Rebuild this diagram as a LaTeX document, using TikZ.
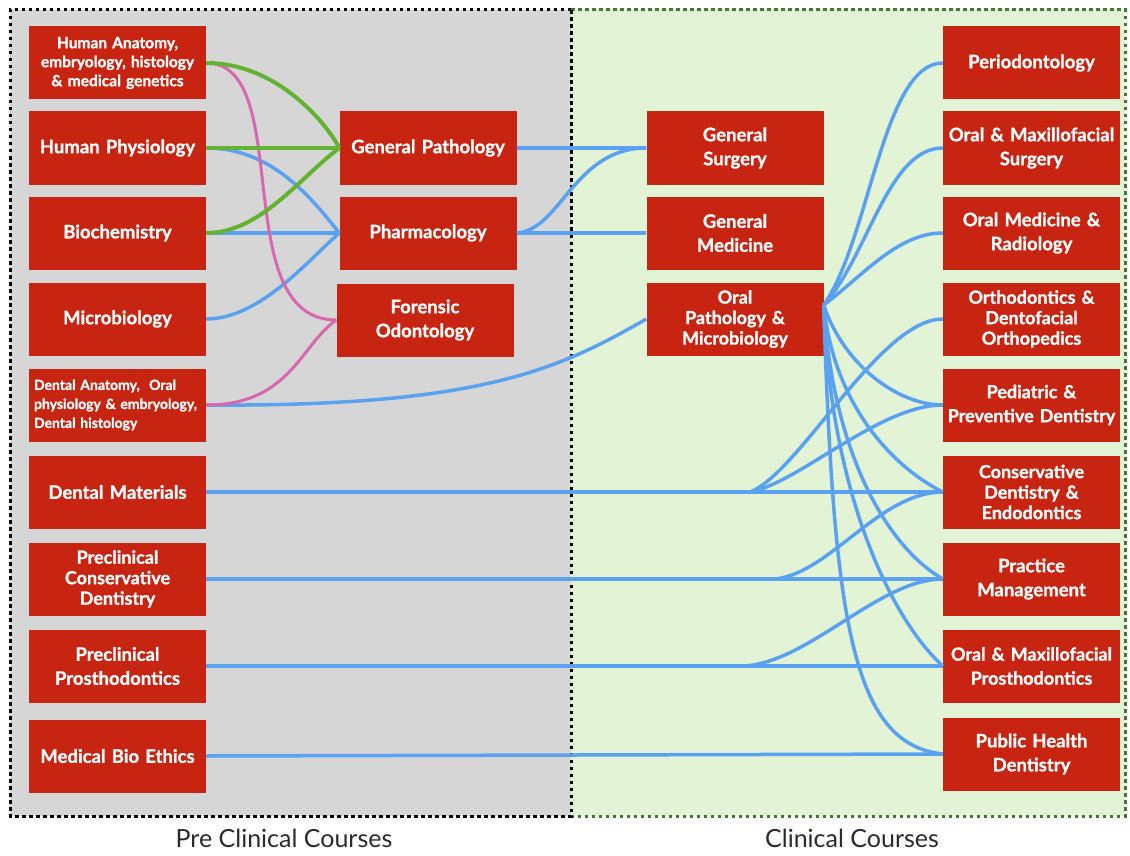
\documentclass[tikz,border=0pt]{standalone}
\usepackage{fontspec}
\setmainfont{Lato}[BoldFeatures={FakeBold=1}]
\usepackage{tikz}
\usepackage{xcolor}
\usetikzlibrary{calc}
\definecolor{boxred}{HTML}{C72412}
\definecolor{preback}{HTML}{D6D6D6}
\definecolor{clinback}{HTML}{E3F3D6}
\definecolor{clinedge}{HTML}{3F7A2A}
\definecolor{linkblue}{HTML}{5AA2F0}
\definecolor{linkgreen}{HTML}{64B232}
\definecolor{linkpink}{HTML}{D768AE}
\definecolor{caption}{HTML}{2B2B2B}
\tikzset{
  course/.style={fill=boxred, text=white, minimum width=177pt, minimum height=73pt,
                 inner sep=1pt, text width=175pt, align=center,
                 font=\fontsize{18.5}{24}\selectfont\bfseries},
  coursetri/.style={course, font=\fontsize{18}{20.5}\selectfont\bfseries},
  coursesmall/.style={course, font=\fontsize{15.5}{19}\selectfont\bfseries},
  link/.style={draw=linkblue, line width=3.5pt},
  greenlink/.style={draw=linkgreen, line width=4pt},
  pinklink/.style={draw=linkpink, line width=3pt},
  dotborder/.style={line width=3pt, dash pattern=on 3.5pt off 3.5pt},
  caption/.style={font=\fontsize{25}{25}\selectfont, text=caption, inner sep=0pt, anchor=base}
}

\begin{document}
\begin{tikzpicture}[x=1pt,y=-1pt]
    \useasboundingbox (0,0) rectangle (1130,856);
    \fill[white] (0,0) rectangle (1130,856);

    % ===== panels =====
    \fill[preback] (10,10) rectangle (571,816);
    \fill[clinback] (571,10) rectangle (1125,816);
    \draw[dotborder, draw=clinedge] (571,10) -- (1125,10) -- (1125,816) -- (571,816);
    \draw[dotborder, draw=black] (571,10) -- (10,10) -- (10,816) -- (571,816) -- cycle;
    \node[caption] (prelabel) at (284,847) {Pre Clinical Courses};
    \node[caption] (clinlabel) at (852,847) {Clinical Courses};

    % ===== pre clinical column =====
    \node[coursesmall] (ha) at (117.5,63) {Human Anatomy,\\embryology, histology\\\& medical genetics};
    \node[course] (hp) at (117.5,148) {Human Physiology};
    \node[course] (bio) at (117.5,233) {Biochemistry};
    \node[course] (mic) at (117.5,319) {Microbiology};
    \node[course, inner sep=5pt, text width=167pt, align=left,
          font=\fontsize{14}{19}\selectfont\bfseries] (da) at (117.5,405)
      {Dental Anatomy,~ Oral\\physiology \& embryology,\\Dental histology};
    \node[course] (dm) at (117.5,492) {Dental Materials};
    \node[coursetri] (pcd) at (117.5,579) {Preclinical\\Conservative\\Dentistry};
    \node[course] (pp) at (117.5,666) {Preclinical\\Prosthodontics};
    \node[course] (mbe) at (117.5,756) {Medical Bio Ethics};

    % ===== middle columns =====
    \node[course] (genpath) at (428,148) {General Pathology};
    \node[course] (pharm) at (428,233) {Pharmacology};
    \node[course] (foren) at (425,320) {Forensic\\Odontology};
    \node[course] (gensurg) at (735,148) {General\\Surgery};
    \node[course] (genmed) at (735,233) {General\\Medicine};
    \node[coursetri] (oralpath) at (735,319) {Oral\\Pathology \&\\Microbiology};

    % ===== clinical column =====
    \node[course] (perio) at (1031.5,63) {Periodontology};
    \node[course] (oms) at (1031.5,148) {Oral \& Maxillofacial\\Surgery};
    \node[course] (omr) at (1031.5,233) {Oral Medicine \&\\Radiology};
    \node[coursetri] (ortho) at (1031.5,319) {Orthodontics \&\\Dentofacial\\Orthopedics};
    \node[course, font=\fontsize{18}{24}\selectfont\bfseries] (pedo) at (1031.5,405) {Pediatric \&\\Preventive Dentistry};
    \node[coursetri] (cons) at (1031.5,492) {Conservative\\Dentistry \&\\Endodontics};
    \node[course] (pm) at (1031.5,579) {Practice\\Management};
    \node[course, font=\fontsize{18}{24}\selectfont\bfseries] (omp) at (1031.5,666) {Oral \& Maxillofacial\\Prosthodontics};
    \node[course] (phd) at (1031.5,754) {Public Health\\Dentistry};

    % ===== left links =====
    \draw[link] (hp.east) .. controls +(64,0) and +(-30,-38) .. (pharm.west);
    \draw[link] (bio.east) -- (pharm.west);
    \draw[link] (mic.east) .. controls +(54,0) and +(-30,26) .. (pharm.west);
    \draw[link] (da.east) .. controls +(274,2) and +(-87,50) .. (oralpath.west);
    \draw[pinklink] (ha.east) .. controls +(90,0) and +(-110,0) .. (foren.west);
    \draw[pinklink] (da.east) .. controls +(84,0) and +(-36,25) .. (foren.west);
    \draw[greenlink] (ha.east) .. controls +(74,0) and +(-10,-20) .. (genpath.west);
    \draw[greenlink] (hp.east) -- (genpath.west);
    \draw[greenlink] (bio.east) .. controls +(54,0) and +(-40,30) .. (genpath.west);

    % ===== middle links =====
    \draw[link] (genpath.east) -- (gensurg.west);
    \draw[link] (pharm.east) .. controls +(44,-3) and +(-72,0) .. (gensurg.west);
    \draw[link] (pharm.east) -- (genmed.west);

    % ===== fan out of oral pathology =====
    \coordinate (fan) at ([yshift=14pt]oralpath.east);
    \draw[link] (fan) .. controls +(46,-65) and +(-60,0) .. (perio.west);
    \draw[link] (fan) .. controls +(45,-50) and +(-55,0) .. (oms.west);
    \draw[link] (fan) .. controls +(40,-30) and +(-45,0) .. (omr.west);
    \draw[link] (fan) .. controls +(20,60) and +(-45,0) .. (pedo.west);
    \draw[link] (fan) .. controls +(10,100) and +(-50,-25) .. (cons.west);
    \draw[link] (fan) .. controls +(8,140) and +(-60,-35) .. (pm.west);
    \draw[link] (fan) .. controls +(6,180) and +(-55,-50) .. (omp.west);
    \draw[link] (fan) .. controls +(10,320) and +(-90,-10) .. (phd.west);

    % ===== long links to clinical courses =====
    \draw[link] (dm.east) -- (cons.west);
    \draw[link] (dm.east) -- ++(544,0) coordinate (dmfork)
      .. controls +(50,-20) and +(-63,0) .. (ortho.west);
    \draw[link] (dmfork) .. controls +(50,-10) and +(-63,0) .. (pedo.west);
    \draw[link] (pcd.east) -- (pm.west);
    \draw[link] (pcd.east) -- ++(569,0) .. controls +(55,-6) and +(-63,0) .. (cons.west);
    \draw[link] (pp.east) -- (omp.west);
    \draw[link] (pp.east) -- ++(539,0) .. controls +(65,-5) and +(-63,0) .. (pm.west);
    \draw[link] (mbe.east) -- (phd.west);
\end{tikzpicture}
\end{document}
